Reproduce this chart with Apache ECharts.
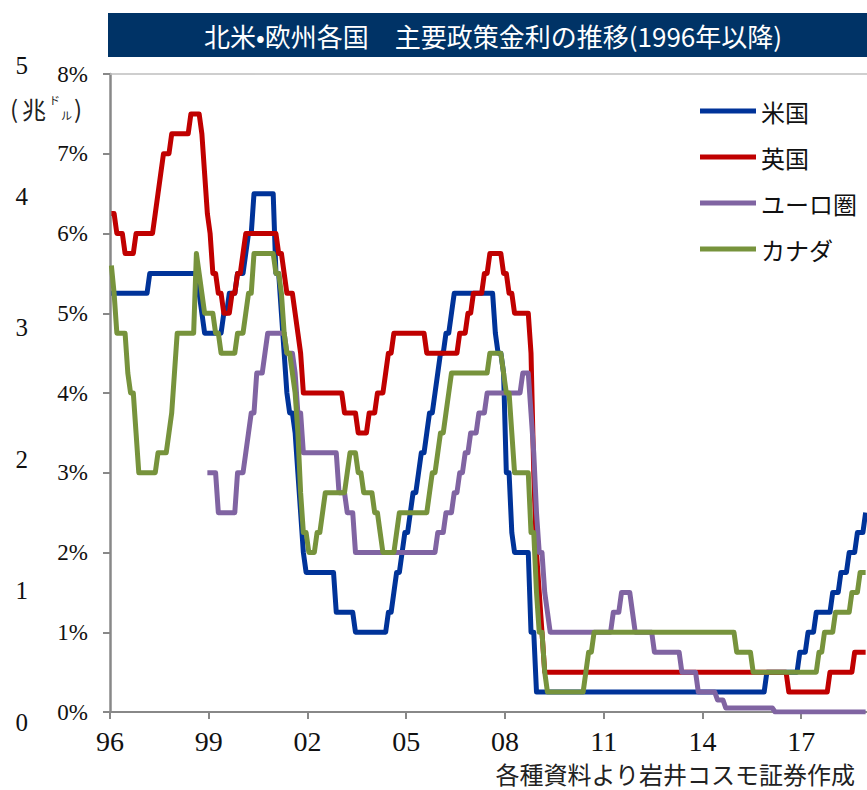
<!DOCTYPE html>
<html>
<head>
<meta charset="utf-8">
<script src="https://cdn.jsdelivr.net/npm/echarts@6/dist/echarts.min.js"></script>
<style>
  html, body { margin: 0; padding: 0; background: #fff; }
  #chart { width: 867px; height: 790px; }
</style>
</head>
<body>
<div id="chart"></div>
<script>
// Policy rates (%), monthly data given as [first month at the new rate, rate]
const usRate = [
  ["1996-01", 5.25], ["1997-03", 5.5], ["1998-09", 5.25], ["1998-10", 5.0], ["1998-11", 4.75],
  ["1999-06", 5.0], ["1999-08", 5.25], ["1999-11", 5.5], ["2000-02", 5.75], ["2000-03", 6.0],
  ["2000-05", 6.5], ["2001-01", 5.5], ["2001-03", 5.0], ["2001-04", 4.5], ["2001-05", 4.0],
  ["2001-06", 3.75], ["2001-08", 3.5], ["2001-09", 3.0], ["2001-10", 2.5], ["2001-11", 2.0],
  ["2001-12", 1.75], ["2002-11", 1.25], ["2003-06", 1.0], ["2004-06", 1.25], ["2004-08", 1.5],
  ["2004-09", 1.75], ["2004-11", 2.0], ["2004-12", 2.25], ["2005-02", 2.5], ["2005-03", 2.75],
  ["2005-05", 3.0], ["2005-06", 3.25], ["2005-08", 3.5], ["2005-09", 3.75], ["2005-11", 4.0],
  ["2005-12", 4.25], ["2006-01", 4.5], ["2006-03", 4.75], ["2006-05", 5.0], ["2006-06", 5.25],
  ["2007-09", 4.75], ["2007-10", 4.5], ["2007-12", 4.25], ["2008-01", 3.0], ["2008-03", 2.25],
  ["2008-04", 2.0], ["2008-10", 1.0], ["2008-12", 0.25], ["2015-12", 0.5], ["2016-12", 0.75],
  ["2017-03", 1.0], ["2017-06", 1.25], ["2017-12", 1.5], ["2018-03", 1.75], ["2018-06", 2.0],
  ["2018-09", 2.25], ["2018-12", 2.5]
];
const ukRate = [
  ["1996-01", 6.25], ["1996-03", 6.0], ["1996-06", 5.75], ["1996-10", 6.0], ["1997-05", 6.25],
  ["1997-06", 6.5], ["1997-07", 6.75], ["1997-08", 7.0], ["1997-11", 7.25], ["1998-06", 7.5],
  ["1998-10", 7.25], ["1998-11", 6.75], ["1998-12", 6.25], ["1999-01", 6.0], ["1999-02", 5.5],
  ["1999-04", 5.25], ["1999-06", 5.0], ["1999-09", 5.25], ["1999-11", 5.5], ["2000-01", 5.75],
  ["2000-02", 6.0], ["2001-02", 5.75], ["2001-04", 5.5], ["2001-05", 5.25], ["2001-08", 5.0],
  ["2001-09", 4.75], ["2001-10", 4.5], ["2001-11", 4.0], ["2003-02", 3.75], ["2003-07", 3.5],
  ["2003-11", 3.75], ["2004-02", 4.0], ["2004-05", 4.25], ["2004-06", 4.5], ["2004-08", 4.75],
  ["2005-08", 4.5], ["2006-08", 4.75], ["2006-11", 5.0], ["2007-01", 5.25], ["2007-05", 5.5],
  ["2007-07", 5.75], ["2007-12", 5.5], ["2008-02", 5.25], ["2008-04", 5.0], ["2008-10", 4.5],
  ["2008-11", 3.0], ["2008-12", 2.0], ["2009-01", 1.5], ["2009-02", 1.0], ["2009-03", 0.5],
  ["2016-08", 0.25], ["2017-11", 0.5], ["2018-08", 0.75]
];
const euroRate = [
  ["1998-12", 3.0], ["1999-04", 2.5], ["1999-11", 3.0], ["2000-02", 3.25], ["2000-03", 3.5],
  ["2000-04", 3.75], ["2000-06", 4.25], ["2000-09", 4.5], ["2000-10", 4.75], ["2001-05", 4.5],
  ["2001-08", 4.25], ["2001-09", 3.75], ["2001-11", 3.25], ["2002-12", 2.75], ["2003-03", 2.5],
  ["2003-06", 2.0], ["2005-12", 2.25], ["2006-03", 2.5], ["2006-06", 2.75], ["2006-08", 3.0],
  ["2006-10", 3.25], ["2006-12", 3.5], ["2007-03", 3.75], ["2007-06", 4.0], ["2008-07", 4.25],
  ["2008-10", 3.75], ["2008-11", 3.25], ["2008-12", 2.5], ["2009-01", 2.0], ["2009-03", 1.5],
  ["2009-04", 1.25], ["2009-05", 1.0], ["2011-04", 1.25], ["2011-07", 1.5], ["2011-11", 1.25],
  ["2011-12", 1.0], ["2012-07", 0.75], ["2013-05", 0.5], ["2013-11", 0.25], ["2014-06", 0.15],
  ["2014-09", 0.05], ["2016-03", 0.0]
];
const canadaRate = [
  ["1996-01", 5.6], ["1996-02", 5.25], ["1996-03", 4.75], ["1996-07", 4.25], ["1996-08", 4.0],
  ["1996-10", 3.5], ["1996-11", 3.0], ["1997-06", 3.25], ["1997-10", 3.5], ["1997-11", 3.75],
  ["1997-12", 4.25], ["1998-01", 4.75], ["1998-08", 5.75], ["1998-09", 5.5], ["1998-10", 5.25],
  ["1998-11", 5.0], ["1999-03", 4.75], ["1999-05", 4.5], ["1999-11", 4.75], ["2000-02", 5.0],
  ["2000-03", 5.25], ["2000-05", 5.75], ["2001-01", 5.5], ["2001-03", 5.25], ["2001-04", 4.75],
  ["2001-05", 4.5], ["2001-07", 4.25], ["2001-08", 4.0], ["2001-09", 3.5], ["2001-10", 2.75],
  ["2001-11", 2.25], ["2002-01", 2.0], ["2002-04", 2.25], ["2002-06", 2.5], ["2002-07", 2.75],
  ["2003-03", 3.0], ["2003-04", 3.25], ["2003-07", 3.0], ["2003-09", 2.75], ["2004-01", 2.5],
  ["2004-03", 2.25], ["2004-04", 2.0], ["2004-09", 2.25], ["2004-10", 2.5], ["2005-09", 2.75],
  ["2005-10", 3.0], ["2005-12", 3.25], ["2006-01", 3.5], ["2006-03", 3.75], ["2006-04", 4.0],
  ["2006-05", 4.25], ["2007-07", 4.5], ["2007-12", 4.25], ["2008-01", 4.0], ["2008-03", 3.5],
  ["2008-04", 3.0], ["2008-10", 2.25], ["2008-12", 1.5], ["2009-01", 1.0], ["2009-03", 0.5],
  ["2009-04", 0.25], ["2010-06", 0.5], ["2010-07", 0.75], ["2010-09", 1.0], ["2015-01", 0.75],
  ["2015-07", 0.5], ["2017-07", 0.75], ["2017-09", 1.0], ["2018-01", 1.25], ["2018-07", 1.5],
  ["2018-10", 1.75]
];
const seriesNames = ["米国", "英国", "ユーロ圏", "カナダ"];
const yTicks = [0, 1, 2, 3, 4, 5, 6, 7, 8];           // % axis
const leftTicks = [0, 1, 2, 3, 4, 5];                 // stray 兆ドル axis
const titleText = "北米•欧州各国　主要政策金利の推移(1996年以降)";
const sourceText = "各種資料より岩井コスモ証券作成";
const lastMonth = "2018-12";

const BASE_YEAR = 1996, END_OFFSET = 23;
// month position (mid-month) on the axis, in years since 1996
function monthPos(ym) {
  const [y, m] = ym.split("-").map(Number);
  return (y - BASE_YEAR) + (m - 0.5) / 12;
}
// monthly series: a rate holds until the month it changes; adjacent months are joined by a line
function toXY(arr) {
  const pts = [];
  arr.forEach(([ym, v], i) => {
    const x = monthPos(ym);
    if (i > 0) pts.push([x - 1 / 12, arr[i - 1][1]]);
    pts.push([x, v]);
  });
  pts.push([monthPos(lastMonth), arr[arr.length - 1][1]]);
  return pts;
}

const colors = ["#003399", "#C00000", "#8064A2", "#77933C"];
const rates = [usRate, ukRate, euroRate, canadaRate];
const numFont = "Liberation Serif";
const jpFont = "Noto Sans CJK JP";

const chart = echarts.init(document.getElementById("chart"), null, { renderer: "svg" });
chart.setOption({
  animation: false,
  backgroundColor: "#fff",
  grid: [
    { left: 110, right: 0, top: 74, bottom: 78 },
    { left: 36, width: 10, top: 65, bottom: 68 }
  ],
  xAxis: [
    {
      type: "value", gridIndex: 0, min: 0, max: END_OFFSET, interval: 3,
      axisLine: { lineStyle: { color: "#888", width: 2 } },
      axisTick: { show: true, length: 7, lineStyle: { color: "#888", width: 2 } },
      splitLine: { show: false },
      axisLabel: {
        showMaxLabel: false, margin: 15, color: "#111", fontSize: 28, fontFamily: numFont,
        formatter: v => String((BASE_YEAR + v) % 100).padStart(2, "0")
      }
    },
    {
      type: "value", gridIndex: 0, position: "top", min: 0, max: END_OFFSET,
      axisLine: { show: true, onZero: false, lineStyle: { color: "#bfbfbf", width: 1.5 } },
      axisTick: { show: false }, axisLabel: { show: false }, splitLine: { show: false }
    },
    { type: "value", gridIndex: 1, show: false }
  ],
  yAxis: [
    {
      type: "value", gridIndex: 0, min: yTicks[0], max: yTicks[yTicks.length - 1], interval: 1,
      axisLine: { show: true, lineStyle: { color: "#888", width: 2.5 } },
      axisTick: { show: true, length: 7, lineStyle: { color: "#888", width: 2 } },
      splitLine: { show: false },
      axisLabel: { margin: 22, color: "#111", fontSize: 23, fontFamily: numFont, formatter: "{value}%" }
    },
    {
      type: "value", gridIndex: 1, min: leftTicks[0], max: leftTicks[leftTicks.length - 1], interval: 1,
      axisLine: { show: false }, axisTick: { show: false }, splitLine: { show: false },
      axisLabel: { margin: 8, color: "#111", fontSize: 25, fontFamily: numFont }
    }
  ],
  legend: {
    orient: "vertical", left: 695, top: 94, itemWidth: 56, itemHeight: 5, itemGap: 22,
    icon: "rect",
    data: seriesNames,
    textStyle: { fontSize: 24, lineHeight: 24, color: "#111", fontFamily: jpFont }
  },
  graphic: [
    { type: "rect", left: 108, top: 13, shape: { width: 759, height: 44 }, style: { fill: "#003366" } },
    { type: "text", x: 493, y: 35, style: { text: titleText, fill: "#fff", fontSize: 26, fontFamily: jpFont, align: "center", verticalAlign: "middle" } },
    { type: "text", x: 855, y: 773, style: { text: sourceText, fill: "#222", fontSize: 24, fontFamily: jpFont, align: "right", verticalAlign: "middle" } },
    { type: "text", x: 10, y: 107, style: { text: "(", fill: "#222", fontSize: 24, fontFamily: jpFont, align: "left", verticalAlign: "middle" } },
    { type: "text", x: 22, y: 108, style: { text: "兆", fill: "#222", fontSize: 24, fontFamily: jpFont, align: "left", verticalAlign: "middle" } },
    { type: "text", x: 49, y: 100, style: { text: "ド", fill: "#222", fontSize: 11, fontFamily: jpFont, align: "left", verticalAlign: "middle" } },
    { type: "text", x: 61, y: 115, style: { text: "ル", fill: "#222", fontSize: 11, fontFamily: jpFont, align: "left", verticalAlign: "middle" } },
    { type: "text", x: 74, y: 107, style: { text: ")", fill: "#222", fontSize: 24, fontFamily: jpFont, align: "left", verticalAlign: "middle" } }
  ],
  series: rates.map((r, i) => ({
    name: seriesNames[i], type: "line", xAxisIndex: 0, yAxisIndex: 0,
    showSymbol: false, symbol: "none",
    data: toXY(r),
    color: colors[i],
    lineStyle: { width: 5, color: colors[i], join: "round" },
    emphasis: { disabled: true }
  }))
});
</script>
</body>
</html>
